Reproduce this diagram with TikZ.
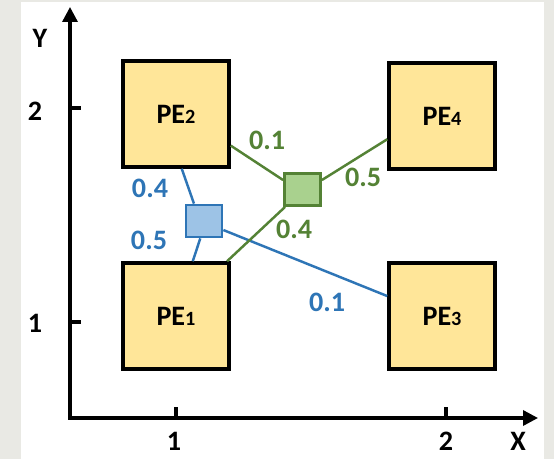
\documentclass[tikz,border=0pt]{standalone}
\usepackage{fontspec}
\setmainfont{Carlito}
\usepackage{tikz}
\usetikzlibrary{arrows.meta}

\definecolor{peyellow}{HTML}{FFE699}
\definecolor{lineblue}{HTML}{2E75B6}
\definecolor{fillblue}{HTML}{9DC3E6}
\definecolor{linegreen}{HTML}{548235}
\definecolor{fillgreen}{HTML}{A9D18E}
\definecolor{slide}{HTML}{E9E9E4}

\tikzstyle{pe} = [draw=black, fill=peyellow, line width=2pt, minimum width=2.12cm, minimum height=2.12cm, inner sep=0pt, font=\fontsize{16}{16}\selectfont\bfseries]
\tikzstyle{axis} = [line width=1.9pt, line join=miter]
\tikzstyle{lbl} = [font=\fontsize{16}{16}\selectfont\bfseries, inner sep=0pt]
\tikzset{
  mixer/.style={draw=#1, line width=1.6pt, minimum width=0.72cm, minimum height=0.64cm, inner sep=0pt},
  wire/.style={draw=#1, line width=1.4pt}
}
\newcommand{\pesub}[1]{PE{\fontsize{11.5}{12}\selectfont #1}}

\begin{document}
\begin{tikzpicture}[x=0.02cm, y=-0.02cm]
\useasboundingbox (0,0) rectangle (554,459);
\fill[slide] (0,0) rectangle (554,459);
\fill[white] (21,2) rectangle (544,459);

% axes
\coordinate (o) at (70,418);
\coordinate (ytop) at (70,7);
\coordinate (xend) at (538,418);
\draw[axis, {Triangle[length=0.3cm, width=0.3cm]}-{Triangle[length=0.3cm, width=0.3cm]}] (ytop) -- (o) -- (xend);
\draw[axis] (70,108) -- (81,108);
\draw[axis] (70,322) -- (81,322);
\draw[axis] (176,418) -- (176,407);
\draw[axis] (446,418) -- (446,407);
\node[lbl] (ylbl) at (40,38) {Y};
\node[lbl] (xlbl) at (518,441) {X};
\node[lbl] (ytwo) at (35,111) {2};
\node[lbl] (yone) at (35,323) {1};
\node[lbl] (xone) at (174,441) {1};
\node[lbl] (xtwo) at (446,441) {2};

% processing elements
\node[pe] (pe2) at (176,114) {\pesub{2}};
\node[pe] (pe4) at (442,116) {\pesub{4}};
\node[pe] (pe1) at (176,316) {\pesub{1}};
\node[pe] (pe3) at (442,316) {\pesub{3}};

% mixing points
\node[mixer=lineblue, fill=fillblue] (mb) at (204,221) {};
\node[mixer=linegreen, fill=fillgreen] (mg) at (302.5,189.5) {};

\draw[wire=lineblue] (pe2.-84) -- (mb.120);
\draw[wire=lineblue] (mb.-102) -- (pe1.73);
\draw[wire=lineblue] (mb.-25) -- (pe3.160);

\draw[wire=linegreen] (pe2.-30) -- (mg.154);
\draw[wire=linegreen] (mg.26) -- (pe4.-157);
\draw[wire=linegreen] (mg.225) -- (pe1.47);

\node[lbl, text=lineblue] (b04) at (150,188) {0.4};
\node[lbl, text=lineblue] (b05) at (149,240) {0.5};
\node[lbl, text=lineblue] (b01) at (327,302) {0.1};
\node[lbl, text=linegreen] (g01) at (267,140) {0.1};
\node[lbl, text=linegreen] (g05) at (363,177) {0.5};
\node[lbl, text=linegreen] (g04) at (294,229) {0.4};
\end{tikzpicture}
\end{document}
